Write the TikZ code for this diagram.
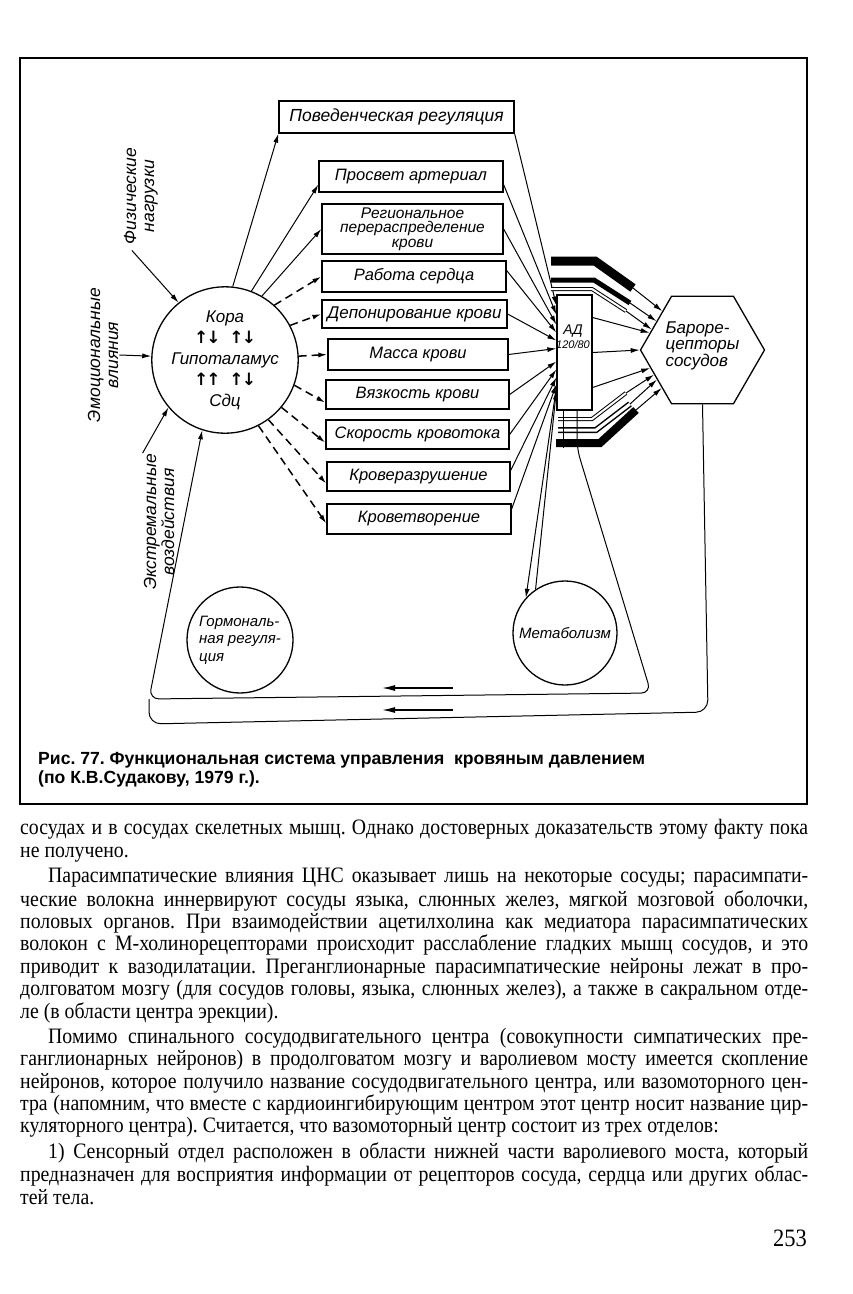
\documentclass[tikz,border=0pt]{standalone}
\usepackage{fontspec}
\setmainfont{Liberation Serif}
\setsansfont{Liberation Sans}
\newfontfamily\bodyfont[FakeStretch=0.9]{Liberation Serif}
\newfontfamily\arrfont{DejaVu Sans}
\usetikzlibrary{shapes.geometric, arrows.meta, positioning, calc}

\newcommand\dfont{\sffamily\itshape\fontsize{16.5}{17}\selectfont}
\frenchspacing

\begin{document}
\begin{tikzpicture}[x=1pt, y=-1pt,
  box/.style={draw, line width=1.3pt, font=\dfont, inner sep=1pt, align=center},
  ring/.style={circle, draw, line width=1.3pt, font=\dfont, inner sep=0pt},
  lbl/.style={rotate=90, font=\dfont\fontsize{17.5}{18}\selectfont, align=center, inner sep=1pt},
  arr/.style={line width=1pt, -{Latex[length=9pt, width=5pt]}},
  darr/.style={arr, line width=1.5pt, dash pattern=on 8pt off 5pt},
  farr/.style={line width=1.3pt, -{Latex[length=13pt, width=6pt]}},
  dbar/.style={double, double distance=2pt, line width=1pt},
  para/.style={anchor=north west, text width=788pt, inner sep=0pt, align=justify,
    font=\bodyfont\fontsize{22}{22.4}\selectfont\frenchspacing}]
  \useasboundingbox (0,0) rectangle (852,1294);

  % frame of the figure
  \draw[line width=1.5pt] (20,58) rectangle (807,804);

  % central structures
  \node[ring, minimum size=132pt, align=center, font=\dfont\fontsize{17}{21}\selectfont] (cns) at (225,360)
    {Кора\\{\arrfont\bfseries ↑\kern-2pt↓\hspace{9pt}↑\kern-2pt↓}\\Гипоталамус\\{\arrfont\bfseries ↑\kern-2pt↑\hspace{9pt}↑\kern-2pt↓}\\Сдц};

  % effectors
  \node[box, minimum width=235pt, minimum height=32pt, font=\dfont\fontsize{17.5}{17}\selectfont] (pov) at (396.5,117) {Поведенческая регуляция};
  \node[box, minimum width=184pt, minimum height=31pt] (prosvet) at (411,176.5) {Просвет артериал};
  \node[box, minimum width=181pt, minimum height=50pt, font=\dfont\fontsize{15.5}{14.5}\selectfont] (region) at (412.5,229) {Региональное\\перераспределение\\крови};
  \node[box, minimum width=184pt, minimum height=31pt] (heart) at (414,276.5) {Работа сердца};
  \node[box, minimum width=185pt, minimum height=28pt, font=\dfont\fontsize{17}{17}\selectfont] (depot) at (414.5,314) {Депонирование крови};
  \node[box, minimum width=180pt, minimum height=31pt] (mass) at (418,354.5) {Масса крови};
  \node[box, minimum width=183pt, minimum height=29pt] (visc) at (417.5,394.5) {Вязкость крови};
  \node[box, minimum width=183pt, minimum height=29pt] (speed) at (417.5,434.5) {Скорость кровотока};
  \node[box, minimum width=183pt, minimum height=29pt] (lysis) at (418.5,476.5) {Кроверазрушение};
  \node[box, minimum width=184pt, minimum height=30pt] (poiesis) at (419,519) {Кроветворение};

  % blood pressure and receptors
  \node[draw, line width=1.3pt, minimum width=35pt, minimum height=115pt, inner sep=0pt] (ad) at (574.5,352.5) {};
  \node[font=\dfont\fontsize{14}{14}\selectfont, align=center, inner sep=0pt] (adval) at (573,337) {АД\\{\fontsize{11}{11}\selectfont 120/80}};
  \node[regular polygon, regular polygon sides=6, minimum size=120pt, draw, line width=1.3pt, inner sep=1pt,
    font=\dfont\fontsize{17}{16.5}\selectfont, align=left] (baro) at (702.5,350) {Бароре-\\цепторы\\сосудов\\[-4pt]};

  \node[ring, minimum size=106pt, align=left, font=\dfont\fontsize{15}{17.5}\selectfont] (horm) at (240,640) {Гормональ-\\ная регуля-\\ция};
  \node[ring, minimum size=104pt, font=\dfont\fontsize{15}{15}\selectfont] (metab) at (565,633) {Метаболизм};

  % afferent influences
  \node[lbl] (phys) at (141,196) {Физические\\нагрузки};
  \node[lbl] (emo) at (103,355) {Эмоциональные\\влияния};
  \node[lbl] (extr) at (159,522) {Экстремальные\\воздействия};

  \draw[arr] ([shift={(9pt,-5pt)}]phys.north west) -- (cns.129);
  \draw[arr] (emo.south) -- (cns.177);
  \draw[arr] (extr.north east) -- (cns.220);

  % cns to effectors
  \draw[arr] (cns.84) -- (pov.south west);
  \draw[arr] (cns.69) -- ([yshift=8pt]prosvet.south west);
  \draw[arr] (cns.60) -- (region.west);
  \draw[darr] (cns.48) -- (heart.west);
  \draw[darr] (cns.28) -- (depot.west);
  \draw[darr] (cns.3) -- (mass.west);
  \draw[darr] (cns.-20) -- ([yshift=7pt]visc.south west);
  \draw[darr] (cns.-40) -- ([yshift=7pt]speed.south west);
  \draw[darr] (cns.-54) -- ([yshift=8pt]lysis.south west);
  \draw[darr] (cns.-63) -- ([yshift=11pt]poiesis.south west);

  % effectors to AD
  \draw[arr] (pov.south east) -- ([yshift=47pt]ad.west);
  \draw[arr] ([yshift=8pt]prosvet.south east) -- ([yshift=38pt]ad.west);
  \draw[arr] (region.east) -- ([yshift=28pt]ad.west);
  \draw[arr] ([yshift=6pt]heart.east) -- ([yshift=20pt]ad.west);
  \draw[arr] (depot.east) -- ([yshift=12pt]ad.west);
  \draw[arr] (mass.east) -- ([yshift=4pt]ad.west);
  \draw[arr] (visc.east) -- ([yshift=-9pt]ad.west);
  \draw[arr] (speed.east) -- ([yshift=-17pt]ad.west);
  \draw[arr] ([yshift=6pt]lysis.east) -- ([yshift=-25pt]ad.west);
  \draw[arr] ([yshift=10pt]poiesis.east) -- ([yshift=-32pt]ad.west);

  % AD to baroreceptors
  \draw[arr] ([yshift=35pt]ad.east) -- (baro.162);
  \draw[arr] (ad.east) -- (baro.180);
  \draw[arr] ([yshift=-35pt]ad.east) -- (baro.199);

  % impulse bars
  \coordinate (t1) at (551,261);
  \coordinate (t2) at (551,280);
  \coordinate (t3) at (551,289);
  \coordinate (b1) at (558,419);
  \coordinate (b2) at (558,430);
  \coordinate (b3) at (556,443);
  \draw[line width=9pt] (t1) -- ++(44,0) -- ++(38,27) coordinate (t1e);
  \draw[line width=5pt] (t2) -- ++(43,0) -- ++(36,23) coordinate (t2e);
  \draw[dbar] (t3) -- ++(41,0) -- ++(34,22) coordinate (t3e);
  \draw[dbar] (b1) -- ++(34,0) -- ++(34,-26) coordinate (b1e);
  \draw[dbar, line width=1.5pt, double distance=3pt] (b2) -- ++(38,0) -- ++(34,-26) coordinate (b2e);
  \draw[line width=8pt] (b3) -- ++(44,0) -- ++(36,-33) coordinate (b3e);
  \draw[arr] (t1e) -- (baro.136);
  \draw[arr] (t2e) -- (baro.148);
  \draw[arr] (t3e) -- (baro.158);
  \draw[arr] (b1e) -- (baro.207);
  \draw[arr] (b2e) -- (baro.213);
  \draw[arr] (b3e) -- (baro.223);
  \draw[line width=1pt] ([xshift=-11.5pt]ad.south) -- ++(0,37);

  % metabolism
  \draw[arr] ([yshift=-35pt]ad.west) -- (metab.138);
  \draw[arr] (metab.124) -- ([yshift=-38pt]ad.west);

  % feedback loops
  \coordinate (lc) at (149,699);
  \draw[arr, rounded corners=10pt] ([xshift=2.5pt]ad.south) -- ++(0,38) -- (651,693) -- (lc) -- (cns.252);
  \draw[line width=1pt, rounded corners=12pt] (baro.south) -- (708,712) -- (149,724) -- (lc);
  \coordinate (f1) at (453,688);
  \coordinate (f2) at (453,710);
  \draw[farr] (f1) -- ++(-71,0);
  \draw[farr] (f2) -- ++(-71,0);

  % caption
  \node[anchor=north west, align=left, inner sep=0pt, font=\sffamily\bfseries\fontsize{17.6}{19}\selectfont] (cap) at (38,752)
    {Рис. 77. Функциональная система управления\ \ кровяным давлением\\(по К.В.Судакову, 1979 г.).};

  % running text
  \node[para] (p1) at (20,819) {\strut сосудах и в сосудах скелетных мышц. Однако достоверных доказательств этому факту пока\linebreak не получено.\strut};
  \node[para, below=2.5pt of p1] (p2) {\strut\hspace*{28pt}Парасимпатические влияния ЦНС оказывает лишь на некоторые сосуды; парасимпати-\linebreak ческие волокна иннервируют сосуды языка, слюнных желез, мягкой мозговой оболочки,\linebreak половых органов. При взаимодействии ацетилхолина как медиатора парасимпатических\linebreak волокон с М-холинорецепторами происходит расслабление гладких мышц сосудов, и это\linebreak приводит к вазодилатации. Преганглионарные парасимпатические нейроны лежат в про-\linebreak долговатом мозгу (для сосудов головы, языка, слюнных желез), а также в сакральном отде-\linebreak ле (в области центра эрекции).\strut};
  \node[para, below=2.5pt of p2] (p3) {\strut\hspace*{28pt}Помимо спинального сосудодвигательного центра (совокупности симпатических пре-\linebreak ганглионарных нейронов) в продолговатом мозгу и варолиевом мосту имеется скопление\linebreak нейронов, которое получило название сосудодвигательного центра, или вазомоторного цен-\linebreak тра (напомним, что вместе с кардиоингибирующим центром этот центр носит название цир-\linebreak куляторного центра). Считается, что вазомоторный центр состоит из трех отделов:\strut};
  \node[para, below=2.5pt of p3] (p4) {\strut\hspace*{28pt}1) Сенсорный отдел расположен в области нижней части варолиевого моста, который\linebreak предназначен для восприятия информации от рецепторов сосуда, сердца или других облас-\linebreak тей тела.\strut};
  \node[anchor=base east, inner sep=0pt, font=\bodyfont\fontsize{25}{25}\selectfont] (page) at (807,1246) {253};
\end{tikzpicture}
\end{document}
